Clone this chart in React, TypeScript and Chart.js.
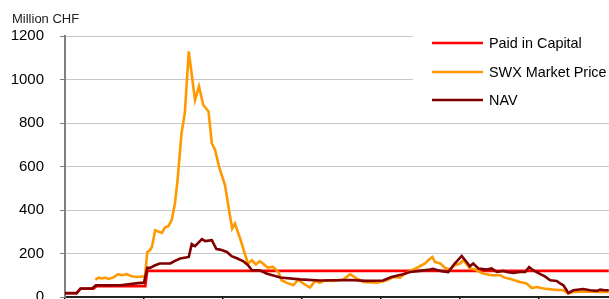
import React, { useEffect, useRef } from "react";
import { Chart, registerables } from "chart.js";
Chart.register(...registerables);

const yAxisTitle = "Million CHF";
const yMin = 0;
const yMax = 1200;
const yStep = 200;
const xMaxMonths = 84;
const xStepMonths = 12;

const seriesLabels = ["Paid in Capital", "SWX Market Price", "NAV"];
const seriesColors = ["#ff0000", "#ff9900", "#800000"];

const paidMonths = [0, 1.7, 2.3, 4.3, 4.8, 12.2, 12.5, 82.6];
const paidValues = [17, 17, 38, 38, 50, 50, 120, 120];

const swxMonths = [
  4.6, 5.1, 5.6, 6.1, 6.6, 7.3, 8.1, 8.6, 9.4, 10.1, 10.9, 12.15, 12.5, 12.9, 13.2, 13.7,
  14.7, 15.2, 15.7, 16.2, 16.7, 17.1, 17.7, 18.2, 18.8, 19.75, 20.35, 21.0, 21.8, 22.3,
  22.8, 23.4, 23.8, 24.3, 25.0, 25.4, 25.8, 26.6, 27.3, 27.8, 28.4, 29.0, 29.6, 30.2,
  30.8, 31.6, 32.4, 32.9, 33.7, 34.7, 35.4, 36.2, 37.2, 38.0, 38.7, 39.5, 40.8, 42.3,
  43.3, 44.1, 45.3, 47.4, 48.9, 49.9, 50.9, 51.65, 52.7, 53.7, 54.7, 55.3, 55.8, 56.2,
  57.0, 57.7, 58.5, 59.2, 60.0, 60.5, 61.0, 61.5, 62.3, 63.5, 64.8, 66.1, 66.8, 67.8,
  69.1, 70.1, 70.9, 71.65, 72.7, 74.2, 75.7, 76.45, 77.2, 79.2, 81.3, 82.6
];
const swxValues = [
  80, 89, 85, 89, 83, 89, 105, 100, 105, 95, 92, 95, 207, 215, 230, 307,
  295, 320, 326, 353, 430, 538, 753, 845, 1129, 905, 968, 883, 853, 707,
  676, 599, 561, 515, 384, 315, 338, 269, 200, 154, 169, 150, 165, 150,
  135, 138, 115, 77, 65, 54, 80, 62, 43, 74, 65, 77, 74, 80,
  105, 89, 69, 66, 77, 92, 89, 108, 123, 138, 154, 172, 184, 161,
  154, 135, 126, 146, 154, 169, 151, 131, 126, 108, 100, 100, 89, 82,
  69, 62, 41, 46, 39, 34, 31, 16, 23, 26, 23, 23
];

const navMonths = [
  0, 1.8, 2.4, 4.1, 4.7, 8.4, 9.9, 11.4, 12.0, 12.5, 12.9, 13.7, 14.4, 16.0, 16.7, 17.5,
  18.8, 19.25, 19.75, 20.8, 21.3, 22.3, 23.0, 23.55, 24.6, 25.3, 26.1, 27.1, 27.8, 28.4,
  29.6, 30.6, 32.7, 35.7, 38.7, 43.3, 45.8, 48.3, 49.6, 51.35, 52.4, 53.9, 55.45, 55.9,
  57.0, 58.2, 59.2, 60.26, 61.0, 61.5, 62.0, 62.8, 64.1, 64.8, 65.6, 66.6, 67.1, 68.1,
  69.1, 69.9, 70.5, 71.1, 72.2, 72.9, 73.7, 74.7, 75.2, 75.7, 76.2, 76.45, 77.2, 78.7,
  79.75, 80.8, 81.3, 82.0, 82.6
];
const navValues = [
  18, 18, 39, 39, 54, 54, 60, 65, 66, 134, 134, 146, 154, 154, 166, 177,
  184, 243, 234, 266, 257, 261, 220, 218, 207, 188, 178, 164, 146, 123,
  123, 108, 90, 81, 76, 78, 74, 76, 92, 105, 115, 120, 126, 129,
  120, 115, 154, 189, 161, 141, 154, 131, 126, 131, 115, 120, 115, 111,
  115, 115, 138, 123, 105, 95, 77, 74, 62, 54, 31, 18, 31, 37,
  31, 28, 34, 31, 31
];

const toPoints = (xs: number[], ys: number[]) => xs.map((x, i) => ({ x, y: ys[i] }));

const FONT = "'Liberation Sans', Arial, sans-serif";

const overlayPlugin = {
  id: "overlay",
  beforeDatasetsDraw(chart: any) {
    const ctx = chart.ctx;
    ctx.save();
    ctx.fillStyle = "#ffffff";
    ctx.fillRect(413, 25, 230, 92);
    const rows = [43, 72, 100];
    seriesLabels.forEach((label, i) => {
      ctx.strokeStyle = seriesColors[i];
      ctx.lineWidth = 2.5;
      ctx.beginPath();
      ctx.moveTo(432, rows[i]);
      ctx.lineTo(483, rows[i]);
      ctx.stroke();
      ctx.fillStyle = "#000000";
      ctx.font = `14.4px ${FONT}`;
      ctx.textBaseline = "alphabetic";
      ctx.textAlign = "left";
      ctx.fillText(label, 489, rows[i] + 5);
    });
    ctx.restore();
  },
  afterDraw(chart: any) {
    const ctx = chart.ctx;
    ctx.save();
    ctx.fillStyle = "#222222";
    ctx.font = `13px ${FONT}`;
    ctx.textBaseline = "alphabetic";
    ctx.textAlign = "left";
    ctx.fillText(yAxisTitle, 12, 22.5);
    ctx.restore();
  },
};

export default function App() {
  const ref = useRef<HTMLCanvasElement>(null);
  useEffect(() => {
    document.body.style.margin = "0";
    const lineDs = (i: number, data: any[], order: number) => ({
      label: seriesLabels[i],
      data,
      borderColor: seriesColors[i],
      backgroundColor: seriesColors[i],
      borderWidth: 2.6,
      pointRadius: 0,
      tension: 0,
      fill: false,
      order,
    });
    const chart = new Chart(ref.current!, {
      type: "line",
      data: {
        datasets: [
          lineDs(0, toPoints(paidMonths, paidValues), 3),
          lineDs(1, toPoints(swxMonths, swxValues), 2),
          lineDs(2, toPoints(navMonths, navValues), 1),
        ],
      },
      options: {
        responsive: false,
        animation: false,
        devicePixelRatio: 1,
        layout: { padding: { left: 0, right: 7, top: 36, bottom: 0 } },
        plugins: { legend: { display: false }, tooltip: { enabled: false } },
        scales: {
          x: {
            type: "linear",
            min: 0,
            max: xMaxMonths,
            ticks: { display: false, stepSize: xStepMonths },
            grid: { drawOnChartArea: false, drawTicks: true, tickLength: 6, tickColor: "#000000", lineWidth: 1.5 },
            border: { display: true, color: "#222222", width: 2 },
            afterFit: (s: any) => { s.height = 33; },
          },
          y: {
            min: yMin,
            max: yMax,
            ticks: {
              stepSize: yStep,
              padding: 16,
              color: "#000000",
              font: { family: FONT, size: 15 },
              callback: (v: any) => String(v),
            },
            grid: { color: "#c8c8c8", lineWidth: 1, drawTicks: true, tickLength: 5, tickColor: "#7f7f7f" },
            border: { display: true, color: "#7f7f7f", width: 2 },
            afterFit: (s: any) => { s.width = 65; },
          },
        },
      },
      plugins: [overlayPlugin],
    });
    return () => chart.destroy();
  }, []);
  return (
    <div style={{ position: "fixed", left: 0, top: 0, width: 609, height: 299, overflow: "hidden", background: "#fff" }}>
      <canvas ref={ref} width={625} height={330} style={{ display: "block", width: 625, height: 330 }} />
    </div>
  );
}
